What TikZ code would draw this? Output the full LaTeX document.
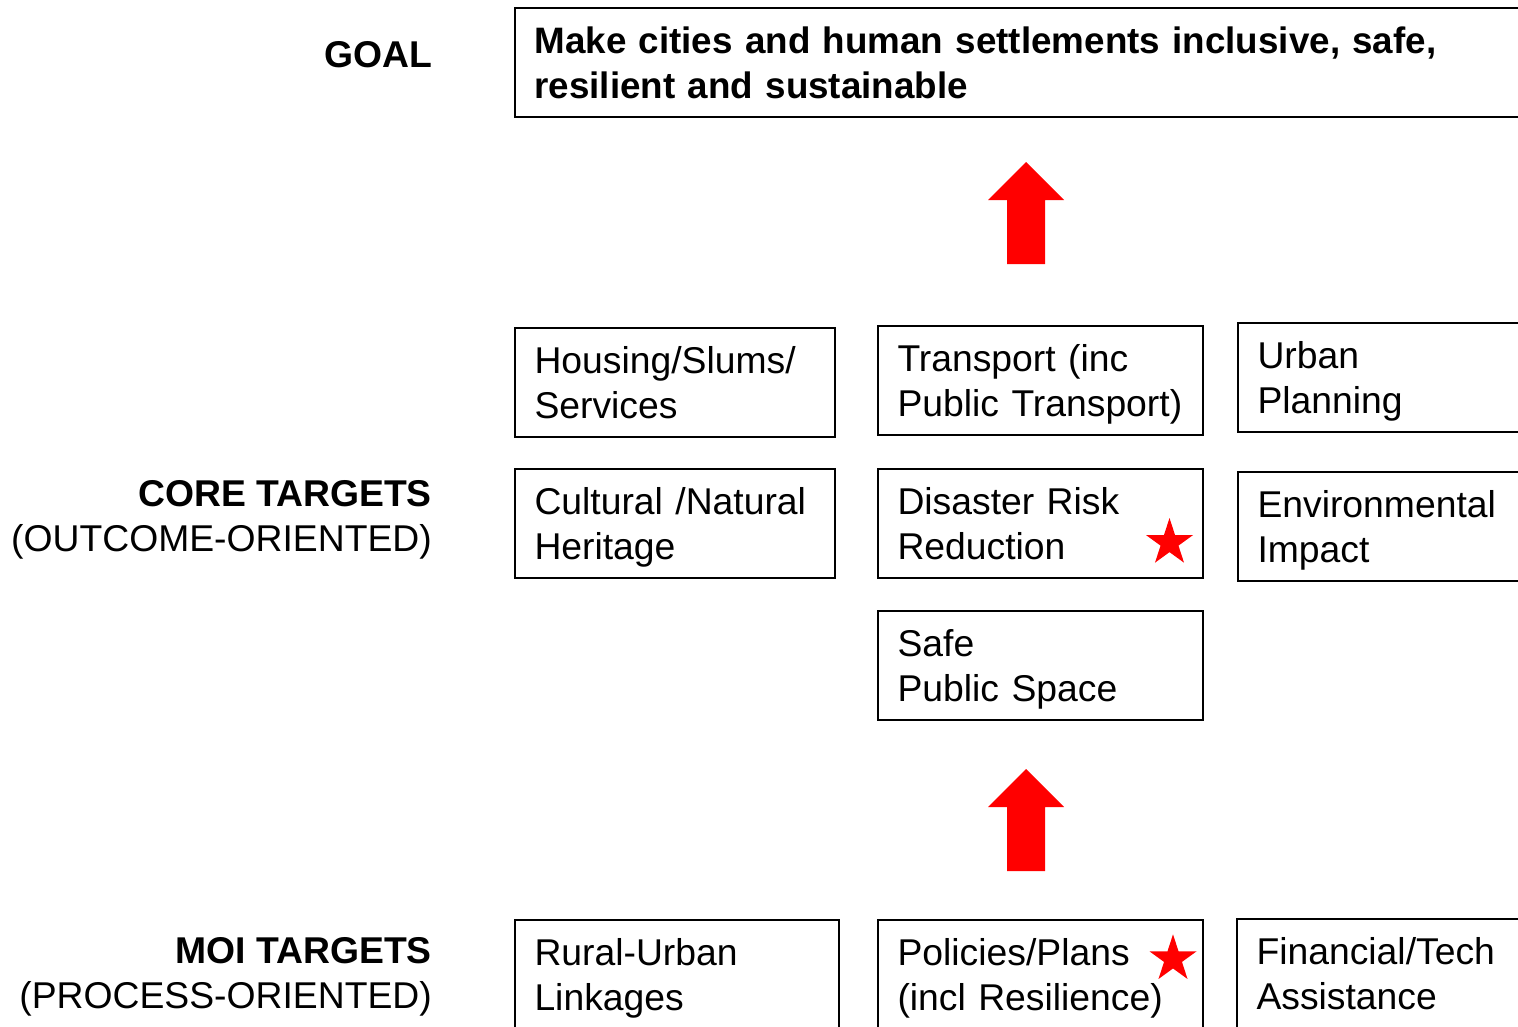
\documentclass[tikz,border=0pt]{standalone}
\usepackage{fontspec}
\setmainfont{Liberation Sans}
\usepackage{tikz}
\usetikzlibrary{shapes.geometric}
\usetikzlibrary{calc}

\tikzset{
	target/.style={draw, line width=2bp, anchor=north west, minimum height=109bp,
		inner xsep=20bp, inner ysep=0pt, align=left, text width=#1,
		text height=36bp, text depth=54bp,
		font=\fontsize{37.3bp}{45bp}\selectfont},
	target/.default=280bp,
	sidelabel/.style={anchor=east, inner sep=0pt, align=right,
		font=\fontsize{37.3bp}{45bp}\selectfont},
	redstar/.style={star, star points=5, star point ratio=2.618, minimum size=49.4bp,
		inner sep=0pt, fill=red, draw=none}
}

\begin{document}
\begin{tikzpicture}[x=1bp, y=-1bp]
\useasboundingbox (0,0) rectangle (1518,1026);
\clip (0,0) rectangle (1518,1026);

% left side labels
\node[sidelabel] (goal) at (432,55) {\bfseries GOAL};
\node[sidelabel] (core) at (432,520) {\textbf{CORE TARGETS}\\(OUTCOME-ORIENTED)};
\node[sidelabel] (moi) at (432,977) {\textbf{MOI TARGETS}\\(PROCESS-ORIENTED)};

% goal box
\node[target=1000bp, font=\fontsize{36.8bp}{45bp}\selectfont\bfseries] (makecities) at (513.5,6.5)
	{Make cities and human settlements inclusive, safe,\\resilient and sustainable};

% core targets
\node[target] (housing) at (513.5,326.5) {Housing/Slums/\\Services};
\node[target=285bp] (transport) at (876.5,324.5) {Transport (inc\\Public Transport)};
\node[target=300bp] (planning) at (1236.5,321.5) {Urban\\Planning};

\node[target] (heritage) at (513.5,467.5) {Cultural /Natural\\Heritage};
\node[target=285bp] (disaster) at (876.5,467.5) {Disaster Risk\\Reduction};
\node[target=300bp] (environment) at (1236.5,470.5) {Environmental\\Impact};

\node[target=285bp] (publicspace) at (876.5,609.5) {Safe\\Public Space};

% moi targets
\node[target=284bp] (rural) at (513.5,918.5) {Rural-Urban\\Linkages};
\node[target=285bp] (policies) at (876.5,918.5) {Policies/Plans\\(incl Resilience)};
\node[target=300bp] (financial) at (1235.5,917.5) {Financial/Tech\\Assistance};

% stars
\node[redstar] (stardisaster) at (1169.5,542.7) {};
\node[redstar] (starpolicies) at (1173,959) {};

% block arrows
\coordinate (tipgoal) at (1026,162);
\coordinate (tipcore) at (1026,769);
\foreach \tip in {tipgoal,tipcore}
	\fill[red] (\tip) -- ++(38,38) -- ++(-19,0) -- ++(0,64) -- ++(-38,0)
		-- ++(0,-64) -- ++(-19,0) -- cycle;

\end{tikzpicture}
\end{document}
